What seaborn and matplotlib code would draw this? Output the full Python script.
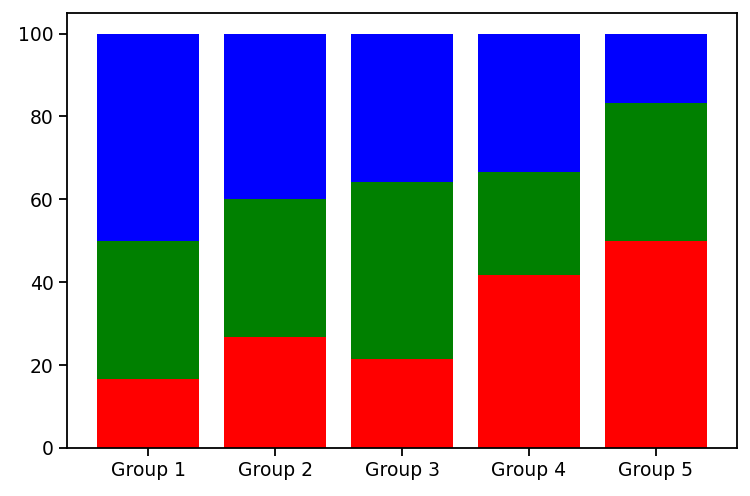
import matplotlib
matplotlib.use("Agg")
import matplotlib.pyplot as plt
import seaborn as sns
import pandas as pd
import numpy as np

# raw counts per group, shown as percentages
groups = ["Group 1", "Group 2", "Group 3", "Group 4", "Group 5"]
red_vals = [1, 4, 3, 5, 3]
green_vals = [2, 5, 6, 3, 2]
blue_vals = [3, 6, 5, 4, 1]

df = pd.DataFrame({"group": groups, "red": red_vals, "green": green_vals, "blue": blue_vals})
total = df[["red", "green", "blue"]].sum(axis=1)
df["red_pct"] = df["red"] / total * 100
df["green_pct"] = df["green"] / total * 100
df["blue_pct"] = df["blue"] / total * 100

fig, ax = plt.subplots(figsize=(7.5, 4.96), dpi=100)
fig.subplots_adjust(left=0.089, right=0.983, top=0.974, bottom=0.097)

sns.barplot(data=df, x="group", y="red_pct", color="red", saturation=1, width=0.8, ax=ax)
sns.barplot(data=df, x="group", y="green_pct", bottom=df["red_pct"], color="green",
            saturation=1, width=0.8, ax=ax)
sns.barplot(data=df, x="group", y="blue_pct", bottom=df["red_pct"] + df["green_pct"],
            color="blue", saturation=1, width=0.8, ax=ax)

ax.set_xlim(-0.64, 4.64)
ax.set_ylim(0, 105)
ax.set_xlabel("")
ax.set_ylabel("")
ax.tick_params(labelsize=13.5, width=1.3, length=6)
for s in ax.spines.values():
    s.set_linewidth(1.3)

plt.savefig("out.png")
plt.close()
